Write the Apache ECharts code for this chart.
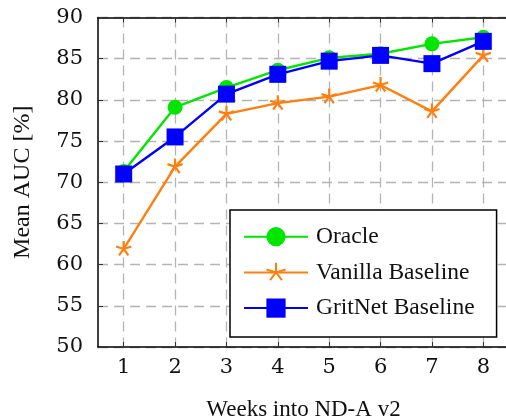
<!DOCTYPE html>
<html>
<head>
<meta charset="utf-8">
<script src="https://cdn.jsdelivr.net/npm/echarts@6/dist/echarts.min.js"></script>
<style>
html,body{margin:0;padding:0;background:#fff;}
#chart{width:506px;height:420px;}
</style>
</head>
<body>
<div id="chart"></div>
<script>
var weeks = ['1','2','3','4','5','6','7','8'];
var oracle = [71.3, 79.1, 81.5, 83.6, 85.1, 85.6, 86.8, 87.6];
var vanilla = [61.9, 71.9, 78.3, 79.6, 80.4, 81.8, 78.6, 85.4];
var gritnet = [71.0, 75.5, 80.7, 83.1, 84.7, 85.4, 84.4, 87.1];
var yTicks = [50, 55, 60, 65, 70, 75, 80, 85, 90];

var FONT = 'Liberation Serif';
var TICKFONT = 'DejaVu Serif';
var starPath = 'path://M0,0L0,-10M0,0L-9.51,-3.09M0,0L-5.88,8.09M0,0L5.88,8.09M0,0L9.51,-3.09M0,10L0,10M-9.51,0L-9.51,0M9.51,0L9.51,0';

var chart = echarts.init(document.getElementById('chart'), null, {renderer: 'canvas'});
var gridDash = {show: true, lineStyle: {color: '#b4b4b4', width: 1.3, type: [10, 6]}};
chart.setOption({
  animation: false,
  textStyle: {fontFamily: FONT},
  grid: {left: 98, top: 17.5, right: -3, bottom: 73, containLabel: false, outerBoundsMode: 'none'},
  legend: {
    orient: 'vertical',
    left: 230, top: 210,
    padding: [14.7, 22, 17, 13],
    itemWidth: 64, itemHeight: 24, itemGap: 11.7,
    borderColor: '#000', borderWidth: 1.5, backgroundColor: '#fff',
    textStyle: {fontFamily: FONT, fontSize: 23.5, color: '#111', padding: [0, 0, 0, 3]},
    data: ['Oracle', 'Vanilla Baseline', 'GritNet Baseline']
  },
  xAxis: [{
    type: 'category', data: weeks, boundaryGap: true, position: 'bottom',
    name: 'Weeks into ND-A v2', nameLocation: 'middle', nameGap: 51,
    nameTextStyle: {fontFamily: FONT, fontSize: 23, color: '#111'},
    axisLine: {show: true, lineStyle: {color: '#000', width: 1.5}},
    axisTick: {show: true, inside: true, length: 5, alignWithLabel: true, lineStyle: {color: '#333'}},
    axisLabel: {fontFamily: TICKFONT, fontSize: 21, color: '#111', margin: 10},
    splitLine: {show: true, alignWithLabel: true, lineStyle: {color: '#b4b4b4', width: 1.3, type: [10, 6]}}
  }, {
    type: 'category', data: weeks, boundaryGap: true, position: 'top',
    axisLine: {show: true, lineStyle: {color: '#000', width: 1.5}},
    axisTick: {show: true, inside: true, length: 5, alignWithLabel: true, lineStyle: {color: '#333'}},
    axisLabel: {show: false},
    splitLine: {show: false}
  }],
  yAxis: {
    type: 'value', min: yTicks[0], max: yTicks[yTicks.length - 1], interval: 5,
    name: 'Mean AUC [%]', nameLocation: 'middle', nameGap: 63, nameRotate: 90,
    nameTextStyle: {fontFamily: FONT, fontSize: 24, color: '#111'},
    axisLine: {show: true, lineStyle: {color: '#000', width: 1.5}},
    axisTick: {show: true, inside: true, length: 5, lineStyle: {color: '#333'}},
    axisLabel: {fontFamily: TICKFONT, fontSize: 21, color: '#111', margin: 15},
    splitLine: gridDash
  },
  series: [{
    name: 'Oracle', type: 'line', data: oracle,
    symbol: 'circle', symbolSize: 15,
    lineStyle: {color: '#00e600', width: 2.4},
    itemStyle: {color: '#00e600'}
  }, {
    name: 'Vanilla Baseline', type: 'line', data: vanilla,
    symbol: starPath, symbolSize: 16, symbolKeepAspect: true,
    lineStyle: {color: '#ff7f0e', width: 2.4},
    itemStyle: {color: 'rgba(0,0,0,0)', borderColor: '#ff7f0e', borderWidth: 2.2}
  }, {
    name: 'GritNet Baseline', type: 'line', data: gritnet,
    symbol: 'rect', symbolSize: 17,
    lineStyle: {color: '#0000ff', width: 2.4},
    itemStyle: {color: '#0000ff'}
  }]
});
</script>
</body>
</html>
